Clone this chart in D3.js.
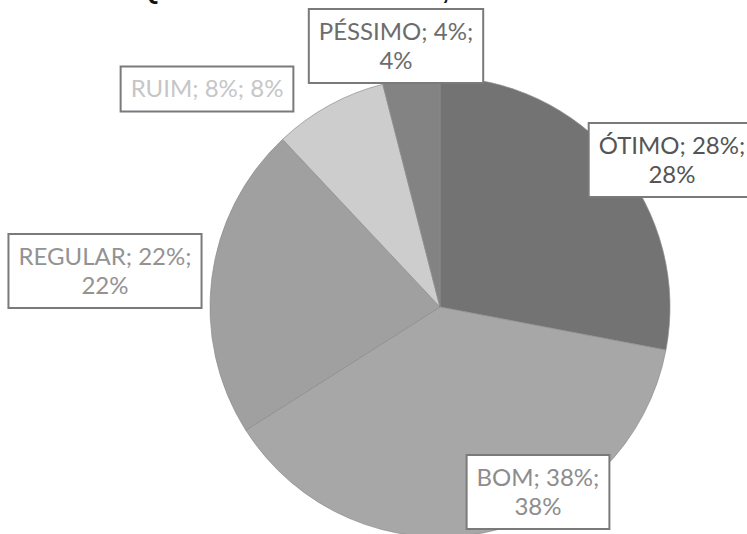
<!DOCTYPE html>
<html>
<head>
<meta charset="utf-8">
<script src="https://cdn.jsdelivr.net/npm/d3@7"></script>
<style>
  body { margin: 0; background: #fff; }
  svg { display: block; }
</style>
</head>
<body>
<div id="chart"></div>
<script>
// chart data
const categories = ["ÓTIMO", "BOM", "REGULAR", "RUIM", "PÉSSIMO"];
const percents = [28, 38, 22, 8, 4];

// slice and label colours (greyscale scan)
const sliceColors = ["#737373", "#a7a7a7", "#a0a0a0", "#cdcdcd", "#838383"];
const textColors = ["#555555", "#8d8d8d", "#939393", "#c6c6c6", "#6c6c6c"];

// where the data label boxes sit (centre of the box), and whether the text wraps
const labelLayout = {
  "ÓTIMO":   { cx: 672, cy: 160, wrap: true },
  "BOM":     { cx: 538, cy: 492, wrap: true },
  "REGULAR": { cx: 105, cy: 271, wrap: true },
  "RUIM":    { cx: 207, cy: 89,  wrap: false },
  "PÉSSIMO": { cx: 396, cy: 46,  wrap: true }
};

width = 747;
height = 534;
center = ({x: 440, y: 307});
radius = 230;

const svg = d3.select("#chart").append("svg")
    .attr("width", width)
    .attr("height", height);

// title, mostly cut off at the top of the picture
svg.append("text")
    .attr("x", 140)
    .attr("y", -1)
    .style("font-family", "Liberation Sans, Arial, sans-serif")
    .style("font-weight", "bold")
    .style("font-size", "26px")
    .attr("fill", "#111")
    .text("QUALIDADE DO CURSO, NA VISÃO DOS ALUNOS");

let colorScale = d3.scaleOrdinal().domain(categories).range(sliceColors);
let textScale = d3.scaleOrdinal().domain(categories).range(textColors);

let pie = d3.pie().sort(null).value((d, i) => percents[i]);
let arc = d3.arc().innerRadius(0).outerRadius(radius);

const g = svg.append("g").attr("transform", `translate(${center.x},${center.y})`);

g.selectAll("path")
    .data(pie(categories))
    .enter().append("path")
    .attr("d", arc)
    .attr("fill", d => colorScale(d.data))
    .attr("stroke", "#8c8c8c")
    .attr("stroke-width", 0.7);

// data labels: "CAT; v%; v%" in a bordered box
const fontSize = 24;
const lineH = 29;
const padX = 10, padY = 8;

categories.forEach((cat, i) => {
  const lay = labelLayout[cat];
  const full = `${cat}; ${percents[i]}%; ${percents[i]}%`;
  const lines = lay.wrap ? [`${cat}; ${percents[i]}%;`, `${percents[i]}%`] : [full];

  const lg = svg.append("g");
  const box = lg.append("rect")
      .attr("fill", "#fff")
      .attr("stroke", "#7a7a7a")
      .attr("stroke-width", 2);

  const txt = lg.append("text")
      .style("font-family", "Lato, 'Open Sans', sans-serif")
      .style("font-size", fontSize + "px")
      .attr("fill", textScale(cat))
      .attr("text-anchor", "middle");

  const top = lay.cy - (lines.length * lineH) / 2;
  lines.forEach((ln, j) => {
    txt.append("tspan")
        .attr("x", lay.cx)
        .attr("y", top + j * lineH + lineH * 0.78)
        .text(ln);
  });

  const w = d3.max(txt.selectAll("tspan").nodes(), n => n.getComputedTextLength());
  box.attr("x", lay.cx - w / 2 - padX)
      .attr("y", top - padY)
      .attr("width", w + 2 * padX)
      .attr("height", lines.length * lineH + 2 * padY);
});
</script>
</body>
</html>
